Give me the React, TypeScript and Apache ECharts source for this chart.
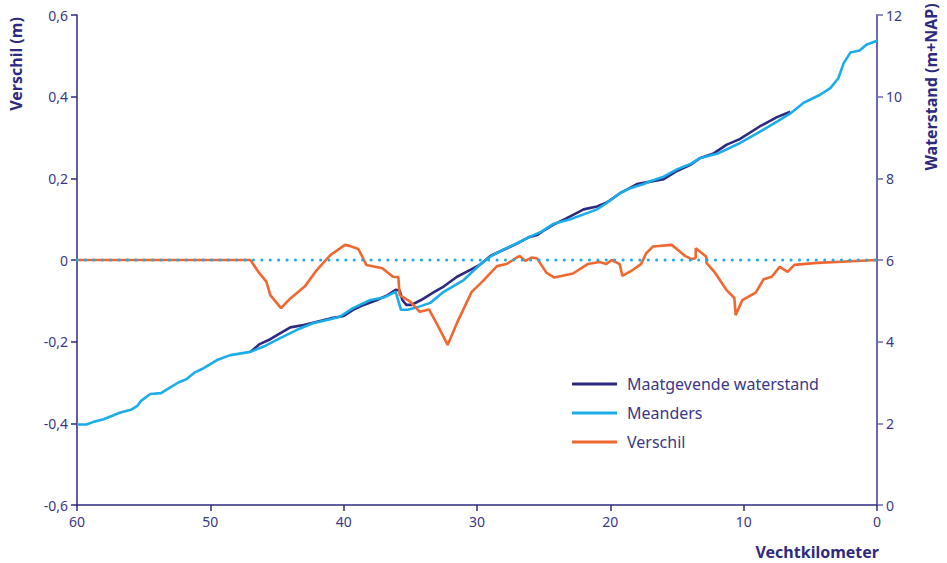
import React, { useEffect, useRef } from "react";
import * as echarts from "echarts";

// Meanders: waterstand (m+NAP) per Vechtkilometer
const meandersKm = [60, 59.9, 59.3, 58.8, 58.0, 56.8, 55.9, 55.5, 55.2, 54.5, 53.7, 53.0, 52.4, 51.8, 51.2, 50.5, 49.5, 48.5, 47.0, 46.0, 44.8, 43.5, 42.3, 41.0, 40.3, 39.3, 38.0, 37.0, 36.1, 35.7, 35.2, 34.5, 33.5, 32.5, 31.0, 29.8, 29.0, 28.0, 27.0, 26.1, 25.2, 24.3, 23.0, 21.9, 21.0, 20.3, 19.3, 18.5, 17.5, 16.9, 16.0, 15.0, 14.0, 13.3, 12.0, 10.3, 8.8, 7.5, 6.5, 5.5, 4.3, 3.5, 2.9, 2.5, 2.0, 1.3, 0.8, 0.15, 0];
const meandersLevel = [1.97, 1.97, 1.97, 2.03, 2.10, 2.26, 2.34, 2.42, 2.55, 2.72, 2.74, 2.88, 3.00, 3.08, 3.24, 3.35, 3.55, 3.67, 3.75, 3.88, 4.08, 4.29, 4.45, 4.55, 4.61, 4.82, 5.02, 5.08, 5.22, 4.78, 4.78, 4.84, 4.95, 5.22, 5.51, 5.88, 6.08, 6.26, 6.41, 6.56, 6.69, 6.88, 7.00, 7.13, 7.24, 7.39, 7.63, 7.76, 7.86, 7.94, 8.04, 8.22, 8.35, 8.49, 8.60, 8.86, 9.14, 9.39, 9.59, 9.85, 10.04, 10.21, 10.45, 10.82, 11.08, 11.13, 11.27, 11.35, 11.36];

// Maatgevende waterstand (m+NAP)
const maatKm = [47.0, 46.3, 45.5, 45.0, 44.0, 43.0, 42.0, 41.0, 40.0, 39.3, 38.5, 37.5, 36.7, 36.1, 35.8, 35.6, 35.3, 34.9, 34.2, 33.2, 32.5, 31.5, 30.5, 29.8, 29.0, 28.0, 27.0, 26.1, 25.5, 24.9, 24.3, 23.3, 22.0, 21.0, 20.3, 19.3, 18.0, 17.0, 16.0, 15.0, 14.0, 13.3, 12.3, 11.3, 10.3, 8.8, 7.5, 6.5];
const maatLevel = [3.75, 3.94, 4.06, 4.16, 4.35, 4.41, 4.49, 4.57, 4.63, 4.78, 4.90, 5.02, 5.14, 5.27, 5.25, 5.02, 4.90, 4.90, 5.02, 5.22, 5.35, 5.59, 5.76, 5.88, 6.10, 6.25, 6.40, 6.56, 6.61, 6.74, 6.86, 7.02, 7.24, 7.31, 7.40, 7.63, 7.86, 7.92, 7.98, 8.18, 8.33, 8.49, 8.60, 8.82, 8.96, 9.27, 9.50, 9.63];

// Verschil (m)
const verschilKm = [60, 47.0, 46.4, 46.0, 45.8, 45.5, 44.7, 44.0, 42.9, 42.0, 41.0, 39.9, 39.5, 38.9, 38.6, 38.3, 37.1, 36.3, 35.9, 35.8, 35.0, 34.3, 33.6, 32.9, 32.2, 31.5, 30.4, 29.6, 28.5, 27.8, 26.8, 26.4, 25.9, 25.5, 24.8, 24.2, 22.8, 21.7, 20.8, 20.3, 19.9, 19.3, 19.1, 18.3, 17.7, 17.3, 16.8, 15.4, 14.9, 14.4, 13.9, 13.6, 13.59, 12.8, 12.79, 12.2, 11.3, 10.7, 10.6, 10.1, 9.1, 8.5, 7.9, 7.3, 6.7, 6.2, 4.5, 0];
const verschilValue = [0, 0, -0.029, -0.045, -0.053, -0.086, -0.118, -0.094, -0.064, -0.024, 0.012, 0.037, 0.034, 0.027, 0.008, -0.012, -0.020, -0.041, -0.042, -0.086, -0.102, -0.127, -0.121, -0.163, -0.208, -0.154, -0.078, -0.053, -0.015, -0.010, 0.010, -0.002, 0.006, 0.004, -0.031, -0.043, -0.033, -0.010, -0.005, -0.010, 0, -0.010, -0.039, -0.024, -0.010, 0.017, 0.033, 0.037, 0.024, 0.010, 0.002, 0.005, 0.029, 0.008, -0.007, -0.029, -0.073, -0.093, -0.135, -0.098, -0.080, -0.047, -0.041, -0.017, -0.029, -0.012, -0.007, 0];

const zeroKm = [60, 0];
const zeroValue = [0, 0];

const TEXT = "#3a3886";
const NAVY = "#2d2a7f";
const LIGHT = "#1badea";
const ORANGE = "#f0682f";
const FONT = "Noto Sans";

const zip = (a: number[], b: number[]) => a.map((x, i) => [x, b[i]]);

export default function App() {
  const ref = useRef<HTMLDivElement>(null);
  useEffect(() => {
    const chart = echarts.init(ref.current!, null, { renderer: "svg" });
    const fmtLeft = (v: number) => (Math.abs(v) < 1e-9 ? "0" : v.toFixed(1).replace(".", ","));
    chart.setOption({
      animation: false,
      backgroundColor: "#ffffff",
      textStyle: { fontFamily: FONT },
      grid: { left: 77, right: 70, top: 15, bottom: 58, containLabel: false },
      legend: {
        orient: "vertical",
        left: 572,
        top: 373,
        padding: 0,
        icon: "rect",
        itemWidth: 45,
        itemHeight: 3,
        itemGap: 7,
        textStyle: { color: TEXT, fontSize: 16, fontFamily: FONT, padding: [0, 0, 0, 5], lineHeight: 22 },
        data: ["Maatgevende waterstand", "Meanders", "Verschil"],
      },
      xAxis: {
        type: "value",
        min: 0,
        max: 60,
        interval: 10,
        inverse: true,
        splitLine: { show: false },
        axisLine: { onZero: false, lineStyle: { color: NAVY, width: 1.5 } },
        axisTick: { show: true, length: 6, lineStyle: { color: NAVY, width: 1.5 } },
        axisLabel: { color: TEXT, fontSize: 14, margin: 9 },
      },
      yAxis: [
        {
          type: "value",
          min: -0.6,
          max: 0.6,
          interval: 0.2,
          position: "left",
          splitLine: { show: false },
          axisLine: { show: true, onZero: false, lineStyle: { color: NAVY, width: 1.5 } },
          axisTick: { show: true, length: 6, lineStyle: { color: NAVY, width: 1.5 } },
          axisLabel: { color: TEXT, fontSize: 14, margin: 9, formatter: fmtLeft },
        },
        {
          type: "value",
          min: 0,
          max: 12,
          interval: 2,
          position: "right",
          splitLine: { show: false },
          axisLine: { show: true, onZero: false, lineStyle: { color: "#6c69ac", width: 2 } },
          axisTick: { show: true, length: 6, lineStyle: { color: "#6c69ac", width: 1.5 } },
          axisLabel: { color: TEXT, fontSize: 14, margin: 9 },
        },
      ],
      graphic: [
        {
          type: "text",
          x: 16,
          y: 64,
          rotation: Math.PI / 2,
          style: { text: "Verschil (m)", fill: NAVY, font: `bold 16px "${FONT}"`, align: "center", verticalAlign: "middle" },
        },
        {
          type: "text",
          x: 931,
          y: 87,
          rotation: Math.PI / 2,
          style: { text: "Waterstand (m+NAP)", fill: NAVY, font: `bold 16px "${FONT}"`, align: "center", verticalAlign: "middle" },
        },
        {
          type: "text",
          x: 879,
          y: 552,
          style: { text: "Vechtkilometer", fill: NAVY, font: `bold 16px "${FONT}"`, align: "right", verticalAlign: "middle" },
        },
      ],
      series: [
        {
          name: "Maatgevende waterstand",
          type: "line",
          yAxisIndex: 1,
          symbol: "none",
          data: zip(maatKm, maatLevel),
          lineStyle: { color: NAVY, width: 2.6 },
          itemStyle: { color: NAVY },
          z: 2,
        },
        {
          name: "Meanders",
          type: "line",
          yAxisIndex: 1,
          symbol: "none",
          data: zip(meandersKm, meandersLevel),
          lineStyle: { color: LIGHT, width: 2.6 },
          itemStyle: { color: LIGHT },
          z: 3,
        },
        {
          name: "Verschil",
          type: "line",
          yAxisIndex: 0,
          symbol: "none",
          data: zip(verschilKm, verschilValue),
          lineStyle: { color: ORANGE, width: 2.6 },
          itemStyle: { color: ORANGE },
          z: 4,
        },
        {
          name: "nullijn",
          type: "line",
          yAxisIndex: 0,
          symbol: "none",
          data: zip(zeroKm, zeroValue),
          lineStyle: { color: LIGHT, width: 3, type: [0.1, 8.3], cap: "round" },
          z: 5,
          silent: true,
        },
      ],
    });
    return () => chart.dispose();
  }, []);
  return <div ref={ref} style={{ position: "fixed", left: 0, top: 0, width: 947, height: 563 }} />;
}
